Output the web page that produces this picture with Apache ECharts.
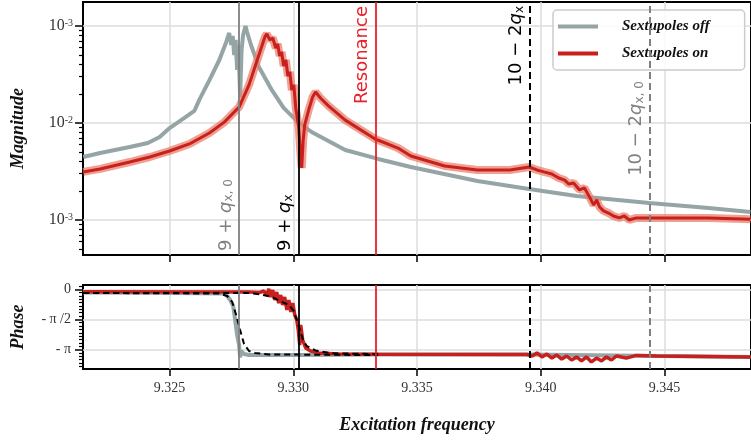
<!DOCTYPE html>
<html>
<head>
<meta charset="utf-8">
<script src="https://cdn.jsdelivr.net/npm/echarts@6/dist/echarts.min.js"></script>
<style>
  html, body { margin: 0; padding: 0; background: #fff; }
  #chart { width: 751px; height: 440px; }
</style>
</head>
<body>
<div id="chart"></div>
<script>
// ---- magnitude, sextupoles off ----
const freqOff = [9.32151, 9.32219, 9.32339, 9.32412, 9.32460, 9.32500, 9.32560, 9.32600, 9.32620, 9.32661,
  9.32701, 9.32729, 9.32741, 9.32749, 9.32755, 9.32761, 9.32767, 9.32773, 9.32779, 9.32785,
  9.32791, 9.32797, 9.32807, 9.32813, 9.32829, 9.32861, 9.32913, 9.32961, 9.33014, 9.33074,
  9.33210, 9.33343, 9.33475, 9.33744, 9.33953, 9.34145, 9.34438, 9.34679, 9.34848];
const magOff = [4.46e-3, 4.91e-3, 5.66e-3, 6.22e-3, 7.18e-3, 8.87e-3, 1.13e-2, 1.33e-2, 1.73e-2, 2.77e-2,
  4.46e-2, 6.84e-2, 8.47e-2, 6.37e-2, 7.89e-2, 5.02e-2, 7.18e-2, 3.52e-2, 6.37e-2, 1.85e-2,
  5.66e-2, 8.07e-2, 1.00e-1, 8.67e-2, 6.37e-2, 3.78e-2, 2.19e-2, 1.43e-2, 1.05e-2, 8.07e-3,
  5.27e-3, 4.26e-3, 3.52e-3, 2.52e-3, 2.09e-3, 1.77e-3, 1.50e-3, 1.33e-3, 1.21e-3];

// ---- magnitude, sextupoles on ----
const freqOn = [9.32151, 9.32219, 9.32339, 9.32420, 9.32500, 9.32580, 9.32661, 9.32721, 9.32781, 9.32821,
  9.32861, 9.32885, 9.32893, 9.32905, 9.32917, 9.32929, 9.32937, 9.32945, 9.32953, 9.32961,
  9.32970, 9.32978, 9.32986, 9.32994, 9.33002, 9.33010, 9.33016, 9.33022, 9.33028, 9.33034,
  9.33040, 9.33046, 9.33062, 9.33078, 9.33090, 9.33110, 9.33142, 9.33210, 9.33331, 9.33423,
  9.33475, 9.33612, 9.33744, 9.33876, 9.33953, 9.33985, 9.34013, 9.34045, 9.34073, 9.34097,
  9.34113, 9.34133, 9.34157, 9.34177, 9.34197, 9.34214, 9.34226, 9.34238, 9.34254, 9.34274,
  9.34294, 9.34318, 9.34338, 9.34358, 9.34386, 9.34547, 9.34679, 9.34848];
const magOn = [3.13e-3, 3.36e-3, 3.96e-3, 4.46e-3, 5.14e-3, 6.08e-3, 7.89e-3, 1.02e-2, 1.46e-2, 2.47e-2,
  5.02e-2, 7.71e-2, 8.28e-2, 7.18e-2, 7.52e-2, 5.93e-2, 6.52e-2, 4.91e-2, 5.40e-2, 3.87e-2,
  4.46e-2, 3.05e-2, 3.36e-2, 2.19e-2, 2.47e-2, 1.43e-2, 1.13e-2, 8.87e-3, 5.27e-3, 3.44e-3,
  6.68e-3, 9.53e-3, 1.36e-2, 1.85e-2, 2.09e-2, 1.81e-2, 1.50e-2, 1.07e-2, 6.84e-3, 5.52e-3,
  4.57e-3, 3.60e-3, 3.28e-3, 3.28e-3, 3.52e-3, 3.28e-3, 3.13e-3, 2.98e-3, 2.71e-3, 2.58e-3,
  2.35e-3, 2.41e-3, 2.04e-3, 2.14e-3, 1.73e-3, 1.43e-3, 1.61e-3, 1.36e-3, 1.24e-3, 1.18e-3,
  1.10e-3, 1.05e-3, 1.10e-3, 1.00e-3, 1.05e-3, 1.05e-3, 1.05e-3, 1.02e-3];

// ---- phase, sextupoles off ----
const phFreqOff = [9.32151, 9.32420, 9.32721, 9.32733, 9.32745, 9.32757, 9.32765, 9.32773, 9.32781, 9.32785,
  9.32789, 9.32801, 9.32821, 9.33022, 9.33343, 9.33945, 9.34848];
const phaseOff = [-0.17, -0.18, -0.22, -0.35, -0.56, -0.87, -1.60, -2.39, -2.91, -3.55,
  -3.22, -3.38, -3.43, -3.43, -3.40, -3.40, -3.53];

// ---- phase, sextupoles on ----
const phFreqOn = [9.32151, 9.32821, 9.32861, 9.32881, 9.32893, 9.32901, 9.32909, 9.32917, 9.32925, 9.32933,
  9.32941, 9.32949, 9.32957, 9.32965, 9.32974, 9.32982, 9.32990, 9.32998, 9.33006, 9.33014,
  9.33020, 9.33026, 9.33030, 9.33038, 9.33050, 9.33070, 9.33102, 9.33182, 9.33343, 9.33945,
  9.33965, 9.33985, 9.34005, 9.34025, 9.34045, 9.34065, 9.34085, 9.34105, 9.34125, 9.34145,
  9.34165, 9.34185, 9.34205, 9.34226, 9.34246, 9.34266, 9.34286, 9.34306, 9.34346, 9.34386,
  9.34466, 9.34848];
const phaseOn = [-0.13, -0.14, -0.17, -0.09, -0.30, 0.02, -0.40, -0.04, -0.56, -0.14,
  -0.72, -0.30, -0.82, -0.40, -1.08, -0.56, -1.18, -0.72, -1.34, -1.60,
  -2.12, -2.91, -1.86, -2.65, -3.06, -3.22, -3.32, -3.38, -3.39, -3.40,
  -3.48, -3.32, -3.53, -3.38, -3.59, -3.43, -3.64, -3.48, -3.69, -3.53,
  -3.74, -3.53, -3.79, -3.59, -3.74, -3.53, -3.69, -3.48, -3.59, -3.45,
  -3.48, -3.53];

// ---- fitted phase responses (dashed) ----
const fitFreqOff = [9.32151, 9.32701, 9.32733, 9.32753, 9.32769, 9.32785, 9.32801, 9.32821, 9.32845, 9.32901, 9.33343];
const fitPhaseOff = [-0.19, -0.22, -0.35, -0.66, -1.34, -2.12, -2.86, -3.22, -3.32, -3.40, -3.43];
const fitFreqOn = [9.32151, 9.32821, 9.32869, 9.32913, 9.32953, 9.32982, 9.33002, 9.33022, 9.33038, 9.33054, 9.33090, 9.33154, 9.33343];
const fitPhaseOn = [-0.19, -0.19, -0.27, -0.40, -0.65, -0.82, -1.13, -1.92, -2.59, -2.96, -3.19, -3.34, -3.38];

// ---- reference frequencies: 9+qx0, 9+qx, resonance, 10-2qx, 10-2qx0 ----
const markerFreqs = [9.32780, 9.33022, 9.33333, 9.33956, 9.34440];

// ---- ticks ----
const xTickValues = [9.325, 9.330, 9.335, 9.340, 9.345];
const xTickLabels = ['9.325', '9.330', '9.335', '9.340', '9.345'];
const magTickValues = [1e-3, 1e-2, 1e-1];
const magTickLabels = [['10', '-3'], ['10', '-2'], ['10', '-3']];
const magMinorTicks = [5e-4, 6e-4, 7e-4, 8e-4, 9e-4,
  2e-3, 3e-3, 4e-3, 5e-3, 6e-3, 7e-3, 8e-3, 9e-3,
  2e-2, 3e-2, 4e-2, 5e-2, 6e-2, 7e-2, 8e-2, 9e-2];
const phaseTickValues = [0, -Math.PI / 2, -Math.PI];
const phaseTickLabels = ['0', '- \u03c0 /2', '- \u03c0'];

const zip = (xs, ys) => xs.map((x, i) => [x, ys[i]]);

const phaseMinorTicks = [];
for (let k = -23; k <= 1; k++) {
  if (k % 9 !== 0) phaseMinorTicks.push(k * Math.PI / 18);
}

const X_MIN = 9.3215, X_MAX = 9.3485;
const MAG_MIN = 4.356e-4, MAG_MAX = 0.1767;
const PH_MIN = -4.159, PH_MAX = 0.224;

const SERIF = 'Liberation Serif';
const SANS = 'DejaVu Sans';
const GRAY = '#95a5a6';
const RED = '#c8201e';
const GRID_LINE = { show: true, lineStyle: { color: '#dcdcdc', width: 1.5 } };

function nearestLabel(values, labels, v) {
  let best = 0;
  values.forEach((t, i) => { if (Math.abs(t - v) < Math.abs(values[best] - v)) best = i; });
  return labels[best];
}

function xAxisFor(gridIndex, withLabels) {
  return {
    type: 'value', gridIndex, min: X_MIN, max: X_MAX,
    axisLine: { show: false, onZero: false },
    axisTick: { show: true, customValues: xTickValues, length: 7, lineStyle: { color: '#000', width: 1.5 } },
    axisLabel: withLabels ? {
      show: true, customValues: xTickValues, margin: 12,
      fontFamily: SERIF, fontSize: 14, color: '#333',
      formatter: v => nearestLabel(xTickValues, xTickLabels, v)
    } : { show: false },
    splitLine: Object.assign({}, GRID_LINE),
    name: withLabels ? 'Excitation frequency' : '',
    nameLocation: 'middle', nameGap: 47,
    nameTextStyle: { fontFamily: SERIF, fontSize: 18, fontStyle: 'italic', fontWeight: 'bold', color: '#111' }
  };
}

const labelRich = {
  n: { fontFamily: SANS, fontSize: 18 },
  q: { fontFamily: SANS, fontSize: 18, fontStyle: 'italic' },
  s: { fontFamily: SANS, fontSize: 12, verticalAlign: 'bottom', padding: [6, 0, 0, 0] }
};

function markerLabel(text, color, position) {
  return {
    show: true, position, distance: 4, color,
    formatter: text,
    rich: {
      n: Object.assign({ color }, labelRich.n),
      q: Object.assign({ color }, labelRich.q),
      s: Object.assign({ color }, labelRich.s)
    }
  };
}

const markerStyles = [
  { color: '#808080', width: 1.8, type: 'solid' },
  { color: '#000000', width: 1.8, type: 'solid' },
  { color: '#e8202a', width: 1.8, type: 'solid' },
  { color: '#000000', width: 2, type: [7, 4] },
  { color: '#808080', width: 2, type: [7, 4] }
];
const markerLabels = [
  markerLabel('{n|9 + }{q|q}{s|x, 0}', '#808080', 'insideStartTop'),
  markerLabel('{n|9 + }{q|q}{s|x}', '#000000', 'insideStartTop'),
  { show: true, position: 'insideEndTop', distance: 4, color: '#e8202a', fontFamily: SANS, fontSize: 18, formatter: 'Resonance' },
  markerLabel('{n|10 \u2212 2}{q|q}{s|x}', '#000000', 'insideEndTop'),
  markerLabel('{n|10 \u2212 2}{q|q}{s|x, 0}', '#808080', 'insideMiddleTop')
];

function markLineFor(withLabels) {
  return {
    silent: true, symbol: ['none', 'none'], animation: false, precision: 6,
    data: markerFreqs.map((f, i) => ({
      xAxis: f,
      lineStyle: markerStyles[i],
      label: withLabels ? markerLabels[i] : { show: false }
    }))
  };
}

const chart = echarts.init(document.getElementById('chart'), null, { renderer: 'canvas' });

chart.setOption({
  animation: false,
  backgroundColor: '#ffffff',
  grid: [
    { left: 83, top: 2, width: 673, height: 253, show: true, borderColor: '#000', borderWidth: 2, backgroundColor: '#fff' },
    { left: 83, top: 285, width: 673, height: 84, show: true, borderColor: '#000', borderWidth: 2, backgroundColor: '#fff' }
  ],
  xAxis: [xAxisFor(0, false), xAxisFor(1, true)],
  yAxis: [
    {
      type: 'log', logBase: 10, gridIndex: 0, min: MAG_MIN, max: MAG_MAX, position: 'left',
      axisLine: { show: false, onZero: false },
      axisTick: { show: true, customValues: magTickValues, length: 8, lineStyle: { color: '#000', width: 1.5 } },
      axisLabel: {
        show: true, customValues: magTickValues, margin: 10, color: '#333',
        formatter: v => { const l = nearestLabel(magTickValues, magTickLabels, v); return '{b|' + l[0] + '}{e|' + l[1] + '}'; },
        rich: {
          b: { fontFamily: SERIF, fontSize: 16, color: '#333' },
          e: { fontFamily: SERIF, fontSize: 10, color: '#333', verticalAlign: 'top' }
        }
      },
      splitLine: Object.assign({}, GRID_LINE),
      name: 'Magnitude', nameLocation: 'middle', nameGap: 56, nameRotate: 90,
      nameTextStyle: { fontFamily: SERIF, fontSize: 18, fontStyle: 'italic', fontWeight: 'bold', color: '#111' }
    },
    {
      type: 'log', logBase: 10, gridIndex: 0, min: MAG_MIN, max: MAG_MAX, position: 'left',
      axisLine: { show: false, onZero: false },
      axisTick: { show: true, customValues: magMinorTicks, length: 4, lineStyle: { color: '#000', width: 1.2 } },
      axisLabel: { show: false }, splitLine: { show: false }
    },
    {
      type: 'value', gridIndex: 1, min: PH_MIN, max: PH_MAX, position: 'left',
      axisLine: { show: false, onZero: false },
      axisTick: { show: true, customValues: phaseTickValues, length: 8, lineStyle: { color: '#000', width: 1.5 } },
      axisLabel: {
        show: true, customValues: phaseTickValues, margin: 12,
        fontFamily: SERIF, fontSize: 14, color: '#333',
        formatter: v => nearestLabel(phaseTickValues, phaseTickLabels, v)
      },
      splitLine: Object.assign({}, GRID_LINE),
      name: 'Phase', nameLocation: 'middle', nameGap: 56, nameRotate: 90,
      nameTextStyle: { fontFamily: SERIF, fontSize: 18, fontStyle: 'italic', fontWeight: 'bold', color: '#111' }
    },
    {
      type: 'value', gridIndex: 1, min: PH_MIN, max: PH_MAX, position: 'left',
      axisLine: { show: false, onZero: false },
      axisTick: { show: true, customValues: phaseMinorTicks, length: 4, lineStyle: { color: '#000', width: 1.2 } },
      axisLabel: { show: false }, splitLine: { show: false }
    }
  ],
  legend: {
    data: ['Sextupoles off', 'Sextupoles on'],
    orient: 'vertical', left: 553, top: 10,
    padding: [9, 35, 9, 5], itemGap: 12, itemWidth: 40, itemHeight: 4, icon: 'rect',
    backgroundColor: 'rgba(255,255,255,0.85)', borderColor: '#cccccc', borderWidth: 1.5, borderRadius: 4,
    textStyle: { fontFamily: SERIF, fontSize: 15, fontStyle: 'italic', fontWeight: 'bold', color: '#111', padding: [0, 0, 0, 19] }
  },
  series: [
    {
      name: 'Sextupoles off', type: 'line', xAxisIndex: 0, yAxisIndex: 0,
      data: zip(freqOff, magOff), showSymbol: false, z: 2,
      color: GRAY, lineStyle: { color: GRAY, width: 4 }
    },
    {
      name: 'on-band', type: 'line', xAxisIndex: 0, yAxisIndex: 0,
      data: zip(freqOn, magOn), showSymbol: false, z: 2, silent: true,
      lineStyle: { color: 'rgba(234,128,108,0.75)', width: 8 }
    },
    {
      name: 'Sextupoles on', type: 'line', xAxisIndex: 0, yAxisIndex: 0,
      data: zip(freqOn, magOn), showSymbol: false, z: 3,
      color: RED, lineStyle: { color: RED, width: 3 }
    },
    {
      name: 'Sextupoles off', type: 'line', xAxisIndex: 1, yAxisIndex: 2,
      data: zip(phFreqOff, phaseOff), showSymbol: false, z: 2,
      color: GRAY, lineStyle: { color: GRAY, width: 4 }
    },
    {
      name: 'Sextupoles on', type: 'line', xAxisIndex: 1, yAxisIndex: 2,
      data: zip(phFreqOn, phaseOn), showSymbol: false, z: 3,
      color: RED, lineStyle: { color: RED, width: 3.5 }
    },
    {
      name: 'fit-off', type: 'line', xAxisIndex: 1, yAxisIndex: 2,
      data: zip(fitFreqOff, fitPhaseOff), showSymbol: false, z: 4,
      lineStyle: { color: '#000', width: 2, type: [6, 4] }
    },
    {
      name: 'fit-on', type: 'line', xAxisIndex: 1, yAxisIndex: 2,
      data: zip(fitFreqOn, fitPhaseOn), showSymbol: false, z: 4,
      lineStyle: { color: '#000', width: 2, type: [6, 4] }
    },
    {
      name: 'markers-top', type: 'line', xAxisIndex: 0, yAxisIndex: 0, data: [], z: 5,
      markLine: markLineFor(true)
    },
    {
      name: 'markers-bottom', type: 'line', xAxisIndex: 1, yAxisIndex: 2, data: [], z: 5,
      markLine: markLineFor(false)
    }
  ]
});
</script>
</body>
</html>
